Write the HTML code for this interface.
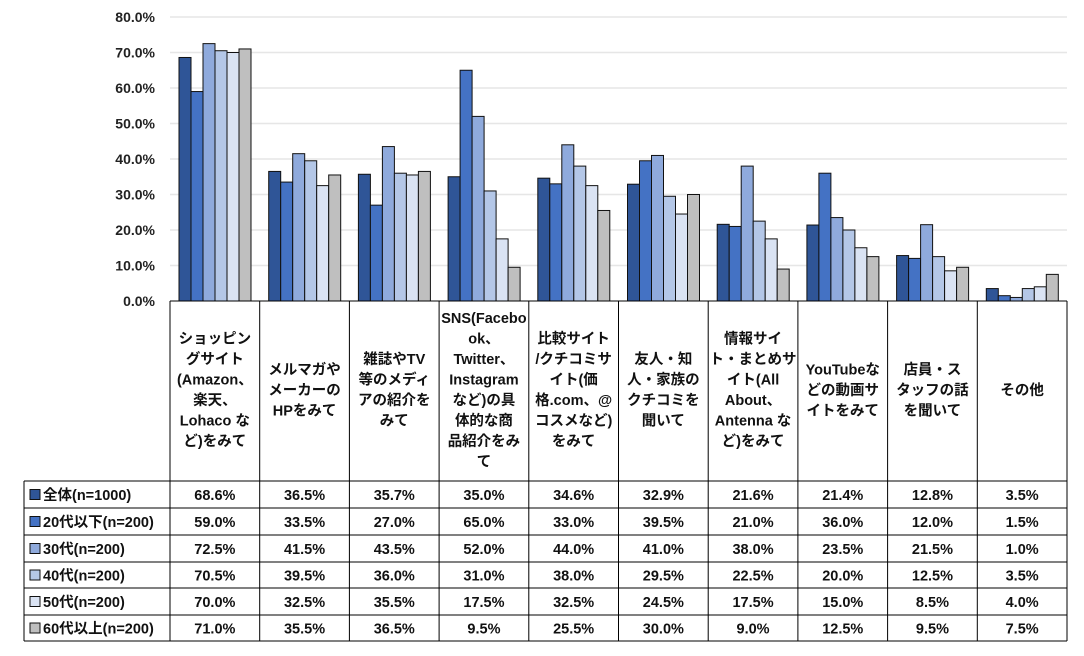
<!DOCTYPE html>
<html><head><meta charset="utf-8"><style>
body{margin:0;background:#fff;width:1084px;height:651px;overflow:hidden;font-family:"Liberation Sans","Noto Sans CJK JP",sans-serif;font-weight:bold;}
svg text{font-family:"Liberation Sans","Noto Sans CJK JP",sans-serif;font-weight:bold;}
</style></head><body>
<svg id="c" width="1084" height="651"></svg>
<script>
const categories=[
["ショッピン","グサイト","(Amazon、","楽天、","Lohaco な","ど)をみて"],
["メルマガや","メーカーの","HPをみて"],
["雑誌やTV","等のメディ","アの紹介を","みて"],
["SNS(Facebo","ok、","Twitter、","Instagram","など)の具","体的な商","品紹介をみ","て"],
["比較サイト","/クチコミサ","イト(価","格.com、@","コスメなど)","をみて"],
["友人・知","人・家族の","クチコミを","聞いて"],
["情報サイ","ト・まとめサ","イト(All","About、","Antenna な","ど)をみて"],
["YouTubeな","どの動画サ","イトをみて"],
["店員・ス","タッフの話","を聞いて"],
["その他"]];
const seriesNames=["全体(n=1000)","20代以下(n=200)","30代(n=200)","40代(n=200)","50代(n=200)","60代以上(n=200)"];
const s0=[68.6,36.5,35.7,35.0,34.6,32.9,21.6,21.4,12.8,3.5];
const s1=[59.0,33.5,27.0,65.0,33.0,39.5,21.0,36.0,12.0,1.5];
const s2=[72.5,41.5,43.5,52.0,44.0,41.0,38.0,23.5,21.5,1.0];
const s3=[70.5,39.5,36.0,31.0,38.0,29.5,22.5,20.0,12.5,3.5];
const s4=[70.0,32.5,35.5,17.5,32.5,24.5,17.5,15.0,8.5,4.0];
const s5=[71.0,35.5,36.5,9.5,25.5,30.0,9.0,12.5,9.5,7.5];
const yTicks=[0,10,20,30,40,50,60,70,80];
const series=[s0,s1,s2,s3,s4,s5];
const colors=["#2F5597","#4472C4","#8FAADC","#B4C7E7","#DAE3F3","#BFBFBF"];
const NS="http://www.w3.org/2000/svg",svg=document.getElementById('c');
const X0=170,X1=1067,Y0=301,YT=17,n=categories.length,cw=(X1-X0)/n;
const y=v=>Y0-(v/80)*(Y0-YT);
function el(t,a,p){const e=document.createElementNS(NS,t);for(const k in a)e.setAttribute(k,a[k]);(p||svg).appendChild(e);return e;}
yTicks.forEach(t=>{
 if(t>0){const g=el('line',{x1:X0,x2:X1,y1:y(t),y2:y(t),stroke:'#e6e6e6','stroke-width':1.5});
 
 }
 const tx=el('text',{x:155,y:y(t)+5,'text-anchor':'end','font-size':14,fill:'#222'});tx.textContent=t.toFixed(1)+'%';
 
 
});
const bw=12;
series.forEach((s,si)=>s.forEach((v,ci)=>{
 const x=X0+ci*cw+9+si*bw;
 const r=el('rect',{x:x,y:y(v),width:bw,height:Y0-y(v),fill:colors[si],stroke:'#111','stroke-width':1});
 
 
}));
// table
const rows=[481,508,535,562,588,615,641];
el('line',{x1:X0,x2:X0,y1:Y0,y2:641,stroke:'#000'});
for(let i=0;i<=n;i++){const x=X0+i*cw;el('line',{x1:x,x2:x,y1:Y0,y2:641,stroke:'#000'});}
el('line',{x1:X0,x2:X1,y1:Y0,y2:Y0,stroke:'#000'});
rows.forEach(r=>el('line',{x1:24,x2:X1,y1:r,y2:r,stroke:'#000'}));
el('line',{x1:24,x2:24,y1:481,y2:641,stroke:'#000'});
categories.forEach((lines,ci)=>{
 const cx=X0+ci*cw+cw/2,lh=20.5,top=391-(lines.length*lh)/2+14;
 lines.forEach((l,li)=>{const t=el('text',{x:cx,y:top+li*lh,'text-anchor':'middle','font-size':14.5,fill:'#111'});t.textContent=l;
 
 });
});
seriesNames.forEach((nm,si)=>{
 const cy=(rows[si]+rows[si+1])/2;
 const k=el('rect',{x:30,y:cy-5,width:10,height:10,fill:colors[si],stroke:'#111'});
 
 
 const t=el('text',{x:43,y:cy+5.5,'font-size':14.5,fill:'#111'});t.textContent=nm;
 
 
 series[si].forEach((v,ci)=>{const tv=el('text',{x:X0+ci*cw+cw/2,y:cy+5.5,'text-anchor':'middle','font-size':14.5,fill:'#111'});tv.textContent=v.toFixed(1)+'%';
 
 });
});
</script>
</body></html>
